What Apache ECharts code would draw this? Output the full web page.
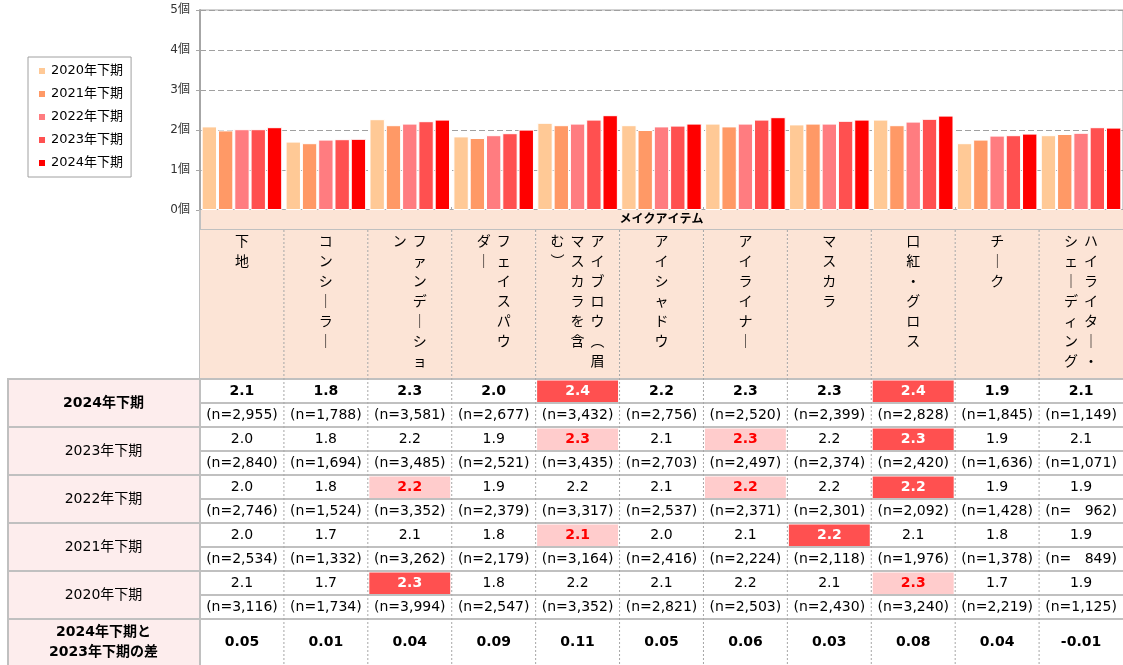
<!DOCTYPE html>
<html><head><meta charset="utf-8">
<script src="https://cdn.jsdelivr.net/npm/echarts@6.0.0/dist/echarts.min.js"></script>
<style>html,body{margin:0;padding:0;background:#fff}#c{width:1123px;height:665px}</style>
</head><body><div id="c"></div>
<script>
// ---------- DATA ----------
const categories = ['下地','コンシーラー','ファンデーション','フェイスパウダー','アイブロウ（眉マスカラを含む）','アイシャドウ','アイライナー','マスカラ','口紅・グロス','チーク','ハイライター・シェーディング'];
const headerColumns = [['下地'],['コンシーラー'],['ファンデーショ','ン'],['フェイスパウ','ダー'],['アイブロウ︵眉','マスカラを含','む︶'],['アイシャドウ'],['アイライナー'],['マスカラ'],['口紅・グロス'],['チーク'],['ハイライター・','シェーディング']];
const axisTitle = 'メイクアイテム';
const seriesNames = ['2020年下期','2021年下期','2022年下期','2023年下期','2024年下期'];
const v2020 = [2.09,1.71,2.27,1.84,2.18,2.12,2.16,2.14,2.26,1.67,1.87];
const v2021 = [1.99,1.67,2.12,1.80,2.12,2.00,2.09,2.16,2.12,1.76,1.90];
const v2022 = [2.02,1.76,2.16,1.87,2.16,2.09,2.16,2.16,2.21,1.86,1.93];
const v2023 = [2.02,1.77,2.22,1.92,2.26,2.11,2.26,2.23,2.28,1.87,2.07];
const v2024 = [2.07,1.78,2.26,2.01,2.37,2.16,2.32,2.26,2.36,1.91,2.06];
const n2020 = [3116,1734,3994,2547,3352,2821,2503,2430,3240,2219,1125];
const n2021 = [2534,1332,3262,2179,3164,2416,2224,2118,1976,1378,849];
const n2022 = [2746,1524,3352,2379,3317,2537,2371,2301,2092,1428,962];
const n2023 = [2840,1694,3485,2521,3435,2703,2497,2374,2420,1636,1071];
const n2024 = [2955,1788,3581,2677,3432,2756,2520,2399,2828,1845,1149];
// rank marks: 2 = first place, 1 = second place
const mark2020 = [0,0,2,0,0,0,0,0,1,0,0];
const mark2021 = [0,0,0,0,1,0,0,2,0,0,0];
const mark2022 = [0,0,1,0,0,0,1,0,2,0,0];
const mark2023 = [0,0,0,0,1,0,1,0,2,0,0];
const mark2024 = [0,0,0,0,2,0,0,0,2,0,0];
const diffs = [0.05,0.01,0.04,0.09,0.11,0.05,0.06,0.03,0.08,0.04,-0.01];
const diffLabel = '2024年下期と\n2023年下期の差';
const yTicks = [0,1,2,3,4,5];

// ---------- STYLE / LAYOUT ----------
const FONT = '"DejaVu Sans","Noto Sans CJK JP",sans-serif';
const COLORS = ['#FFC996','#FF9966','#FF7C80','#FF5050','#FF0000'];
const PEACH = '#FCE4D6', PINK = '#FDEDED', LINE = '#C0C0C0', DASH = '#A6A6A6';
const STRONG = '#FF5050', LIGHT = '#FFCCCC', RED = '#FF0000';
const GL = 200, GW = 927;
// table rows in pixel units inside the table grid
const BAND = [0,20], HEAD = [20,169], YEAR0 = 169, SUB = 24, DIFF = [409,455], LEFTW = 193;

const rows = [
  {name:seriesNames[4], v:v2024, n:n2024, m:mark2024, bold:true},
  {name:seriesNames[3], v:v2023, n:n2023, m:mark2023},
  {name:seriesNames[2], v:v2022, n:n2022, m:mark2022},
  {name:seriesNames[1], v:v2021, n:n2021, m:mark2021},
  {name:seriesNames[0], v:v2020, n:n2020, m:mark2020}
];
const allValues = [v2020,v2021,v2022,v2023,v2024];

function fmtV(v){ return (Math.round(v*10+1e-9)/10).toFixed(1); }
function fmtN(n){ return n >= 1000 ? '(n=' + n.toLocaleString('en-US') + ')' : '(n=   ' + n + ')'; }
function vert(s){ return s.split('').map(c => c === 'ー' ? '｜' : c).join('\n'); }
function txt(x, y, text, opt){
  opt = opt || {};
  return {type:'text', x:x, y:y, silent:true, style:{text:text, fill:opt.fill||'#000',
    font:(opt.bold?'bold ':'') + (opt.size||14) + 'px ' + FONT,
    align:opt.align||'center', verticalAlign:opt.va||'middle', lineHeight:opt.lh||undefined}};
}
function hline(x1, x2, y, w){ return {type:'line', silent:true, shape:{x1:x1,y1:y,x2:x2,y2:y}, style:{stroke:LINE, lineWidth:w||2}}; }
function vline(x, y1, y2, dashed, w){ return {type:'line', silent:true, shape:{x1:x,y1:y1,x2:x,y2:y2}, style:{stroke:dashed?DASH:LINE, lineWidth:w||1, lineDash:dashed?[2,2]:null}}; }

function renderColumn(params, api){
  const i = api.value(0);
  const w = api.size([1,0])[0];
  const cx = api.coord([i,0])[0];
  const x0 = cx - w/2, x1 = cx + w/2;
  const Y = r => api.coord([i, r])[1];
  const ch = [];
  ch.push({type:'rect', silent:true, shape:{x:x0,y:Y(HEAD[0]),width:w,height:Y(HEAD[1])-Y(HEAD[0])}, style:{fill:PEACH}});
  const cols = headerColumns[i];
  cols.forEach((c,k) => {
    ch.push(txt(cx + (cols.length-1)*10 - k*20, Y(HEAD[0])+2, vert(c), {va:'top', lh:20, size:14}));
  });
  rows.forEach((row, r) => {
    const top = YEAR0 + r*2*SUB;
    const yv = Y(top), ym = Y(top+SUB), ye = Y(top+2*SUB);
    const lvl = row.m[i];
    if (lvl) ch.push({type:'rect', silent:true, shape:{x:x0+1.5,y:yv+1.5,width:w-3,height:ym-yv-2.5}, style:{fill:lvl===2?STRONG:LIGHT}});
    ch.push(txt(cx, (yv+ym)/2+0.5, fmtV(row.v[i]), {bold:row.bold||lvl>0, fill:lvl===2?'#fff':(lvl===1?RED:'#000')}));
    ch.push(txt(cx, (ym+ye)/2+0.5, fmtN(row.n[i])));
    ch.push(hline(x0, x1, ym, 2));
    ch.push(hline(x0, x1, ye, 2));
  });
  ch.push(txt(cx, (Y(DIFF[0])+Y(DIFF[1]))/2, diffs[i].toFixed(2), {bold:true}));
  ch.push(hline(x0, x1, Y(HEAD[1]), 2));
  if (i > 0) ch.push(vline(x0, Y(HEAD[0]), Y(DIFF[1]), true));
  return {type:'group', children:ch};
}

function renderFrame(params, api){
  const cs = params.coordSys;
  const Y = r => api.coord([0, r])[1];
  const L = cs.x - LEFTW, R = cs.x + cs.width;
  const ch = [];
  ch.push({type:'rect', silent:true, shape:{x:cs.x,y:Y(BAND[0]),width:cs.width,height:Y(BAND[1])-Y(BAND[0])}, style:{fill:PEACH}});
  ch.push(txt(cs.x + cs.width/2, (Y(BAND[0])+Y(BAND[1]))/2, axisTitle, {bold:true, size:12}));
  ch.push(hline(cs.x, R, Y(BAND[1]), 2));
  ch.push({type:'rect', silent:true, shape:{x:L,y:Y(YEAR0),width:LEFTW,height:Y(DIFF[1])-Y(YEAR0)}, style:{fill:PINK}});
  rows.forEach((row, r) => {
    const top = YEAR0 + r*2*SUB;
    ch.push(txt((L+cs.x)/2, Y(top+SUB)+0.5, row.name, {bold:row.bold}));
    ch.push(hline(L, cs.x, Y(top), 2));
  });
  ch.push(hline(L, cs.x, Y(DIFF[0]), 2));
  ch.push(txt((L+cs.x)/2, (Y(DIFF[0])+Y(DIFF[1]))/2, diffLabel, {bold:true, lh:20}));
  ch.push(vline(L+1, Y(YEAR0), Y(DIFF[1]), false, 2));
  ch.push(vline(cs.x, Y(BAND[0]), Y(DIFF[1]), false, 2));
  return {type:'group', children:ch};
}

const chart = echarts.init(document.getElementById('c'));
chart.setOption({
  animation:false,
  backgroundColor:'#fff',
  textStyle:{fontFamily:FONT},
  legend:{
    data:seriesNames, orient:'vertical', left:28, top:57, icon:'rect',
    itemWidth:8, itemHeight:8, itemGap:9, padding:[7,8,7,9],
    borderColor:'#A0A0A0', borderWidth:1, backgroundColor:'#fff',
    textStyle:{fontSize:13, color:'#000', lineHeight:14, fontFamily:FONT}
  },
  grid:[
    {left:GL, top:10, width:GW, height:200, show:true, borderColor:'#A6A6A6', borderWidth:1},
    {left:GL, top:210, width:GW, height:455}
  ],
  xAxis:[
    {type:'category', gridIndex:0, data:categories, axisLabel:{show:false},
     axisLine:{lineStyle:{color:'#A6A6A6', width:2}},
     axisTick:{show:true, inside:true, length:3, lineStyle:{color:'#A6A6A6'}}},
    {type:'category', gridIndex:1, data:categories, show:false}
  ],
  yAxis:[
    {type:'value', gridIndex:0, min:yTicks[0], max:yTicks[yTicks.length-1], interval:1,
     axisLine:{show:true, lineStyle:{color:'#A6A6A6', width:2}},
     axisTick:{show:true, length:4, lineStyle:{color:'#A6A6A6'}},
     axisLabel:{formatter:'{value}個', fontSize:12, color:'#333', margin:10, fontFamily:FONT},
     splitLine:{show:true, lineStyle:{color:'#A0A0A0', type:[6,3], width:1}}},
    {type:'value', gridIndex:1, min:0, max:DIFF[1], inverse:true, show:false}
  ],
  series: seriesNames.map((nm, k) => ({
    type:'bar', name:nm, xAxisIndex:0, yAxisIndex:0, data:allValues[k],
    barGap:'6%', barCategoryGap:'4%',
    itemStyle:{color:COLORS[k], borderColor:'#fff', borderWidth:1}
  })).concat([
    {type:'custom', name:'frame', xAxisIndex:1, yAxisIndex:1, data:[[0,0]], renderItem:renderFrame, silent:true, z:1},
    {type:'custom', name:'table', xAxisIndex:1, yAxisIndex:1, data:categories.map((c,i)=>[i,0]), renderItem:renderColumn, silent:true, z:2}
  ])
});
</script>
</body></html>
